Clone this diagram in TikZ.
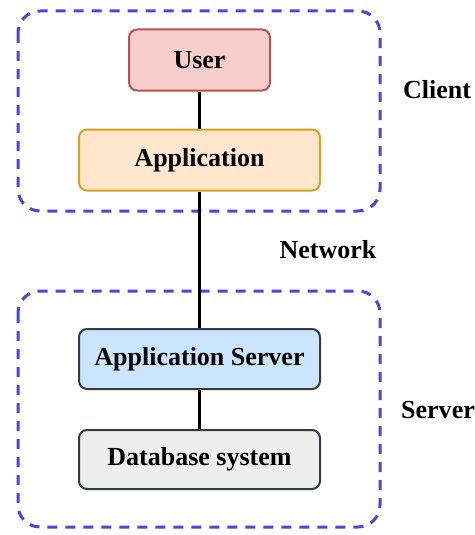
\documentclass[tikz,border=0pt]{standalone}
\usepackage{fontspec}
\setmainfont{Liberation Serif}[BoldFont={Liberation Serif Bold}]
\definecolor{userfill}{HTML}{F8CECC}
\definecolor{userdraw}{HTML}{B85450}
\definecolor{appfill}{HTML}{FFE6CC}
\definecolor{appdraw}{HTML}{D6A21E}
\definecolor{srvfill}{HTML}{CCE5FF}
\definecolor{dbfill}{HTML}{EEEEEE}
\definecolor{darkdraw}{HTML}{36393D}
\definecolor{groupblue}{HTML}{4A48D6}
\begin{document}
\begin{tikzpicture}[x=1pt,y=-1pt,
  box/.style={rounded corners=8pt, line width=2pt, font=\fontsize{26}{28}\selectfont\bfseries},
  group/.style={draw=groupblue, line width=3pt, dash pattern=on 10pt off 8pt, rounded corners=22pt},
  lbl/.style={font=\fontsize{26}{28}\selectfont\bfseries},
  conn/.style={line width=2.5pt, black}]
\useasboundingbox (0,0) rectangle (474,535);
\fill[white] (0,0) rectangle (474,535);
\draw[group] (18,11) rectangle (380,211);
\draw[group] (18,291) rectangle (380,527);
\node[box, fill=userfill, draw=userdraw, minimum width=141pt, minimum height=61pt] (user) at (199.5,60) {User};
\node[box, fill=appfill, draw=appdraw, minimum width=241pt, minimum height=61pt] (app) at (199.5,160) {Application};
\node[box, fill=srvfill, draw=darkdraw, minimum width=241pt, minimum height=60pt] (srv) at (199.5,359) {Application Server};
\node[box, fill=dbfill, draw=darkdraw, minimum width=241pt, minimum height=59pt] (db) at (199.5,459.5) {Database system};
\draw[conn] (user) -- (app);
\draw[conn] (app) -- (srv);
\draw[conn] (srv) -- (db);
\node[lbl] (client) at (437,90) {Client};
\node[lbl] (network) at (328,250) {Network};
\node[lbl, anchor=west, inner sep=0pt] (server) at (401,410) {Server};
\end{tikzpicture}
\end{document}
